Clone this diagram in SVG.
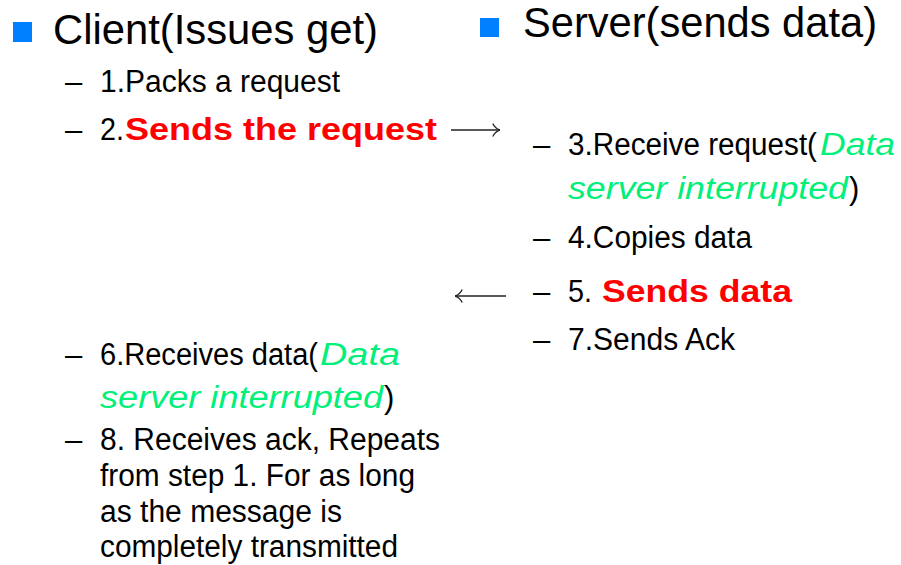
<svg xmlns="http://www.w3.org/2000/svg" width="901" height="565" viewBox="0 0 901 565">
<defs>
<style>
text{font-family:"Liberation Sans",Arial,sans-serif;fill:#000}
.h{font-size:42px}
.i{font-size:31px}
.r{fill:#ff0000;font-weight:bold;font-size:32px}
.g{fill:#00f07a;font-style:italic}
.b{fill:#0080ff}
.c{stroke:#222;stroke-width:1.3;fill:none}
</style>
<marker id="ah" viewBox="0 0 8 14" refX="8" refY="7" markerWidth="8" markerHeight="14" markerUnits="userSpaceOnUse" orient="auto-start-reverse">
<path d="M0.8,0.5 Q3,5.5 8,7 Q3,8.5 0.8,13.5" fill="none" stroke="#222" stroke-width="1.3"/>
</marker>
</defs>
<rect width="901" height="565" fill="#fff"/>
<g id="client">
<rect class="b" x="13" y="22" width="19" height="20"/>
<text class="h" x="53" y="44" textLength="325" lengthAdjust="spacingAndGlyphs">Client(Issues get)</text>
</g>
<g id="server">
<rect class="b" x="480" y="18" width="19" height="19"/>
<text class="h" x="523" y="37" textLength="354" lengthAdjust="spacingAndGlyphs">Server(sends data)</text>
</g>
<g id="step1"><text class="i" x="65" y="92">–</text><text class="i" x="100" y="92" textLength="240" lengthAdjust="spacingAndGlyphs">1.Packs a request</text></g>
<g id="step2"><text class="i" x="65" y="140">–</text><text class="i" x="100" y="140" textLength="24" lengthAdjust="spacingAndGlyphs">2.</text><text class="r" x="125" y="140" textLength="312" lengthAdjust="spacingAndGlyphs">Sends the request</text></g>
<g id="step3"><text class="i" x="533" y="155">–</text><text class="i" x="568" y="155"><tspan textLength="249" lengthAdjust="spacingAndGlyphs">3.Receive request(</tspan><tspan class="g" x="820" textLength="75" lengthAdjust="spacingAndGlyphs">Data</tspan></text><text class="i" x="568" y="199"><tspan class="g" textLength="280" lengthAdjust="spacingAndGlyphs">server interrupted</tspan><tspan x="849">)</tspan></text></g>
<g id="step4"><text class="i" x="533" y="248">–</text><text class="i" x="568" y="248" textLength="184" lengthAdjust="spacingAndGlyphs">4.Copies data</text></g>
<g id="step5"><text class="i" x="533" y="302">–</text><text class="i" x="568" y="302" textLength="24" lengthAdjust="spacingAndGlyphs">5.</text><text class="r" x="602" y="302" textLength="190" lengthAdjust="spacingAndGlyphs">Sends data</text></g>
<g id="step7"><text class="i" x="533" y="350">–</text><text class="i" x="568" y="350" textLength="167" lengthAdjust="spacingAndGlyphs">7.Sends Ack</text></g>
<g id="step6"><text class="i" x="65" y="365">–</text><text class="i" x="100" y="365"><tspan textLength="218" lengthAdjust="spacingAndGlyphs">6.Receives data(</tspan><tspan class="g" x="320" textLength="80" lengthAdjust="spacingAndGlyphs">Data</tspan></text><text class="i" x="100" y="408"><tspan class="g" textLength="283" lengthAdjust="spacingAndGlyphs">server interrupted</tspan><tspan x="384">)</tspan></text></g>
<g id="step8"><text class="i" x="65" y="450">–</text><text class="i" x="100" y="450" textLength="340" lengthAdjust="spacingAndGlyphs">8. Receives ack, Repeats</text><text class="i" x="100" y="486" textLength="315" lengthAdjust="spacingAndGlyphs">from step 1. For as long</text><text class="i" x="100" y="522" textLength="242" lengthAdjust="spacingAndGlyphs">as the message is</text><text class="i" x="100" y="557" textLength="298" lengthAdjust="spacingAndGlyphs">completely transmitted</text></g>
<g id="connectors">
<line class="c" x1="451" y1="130" x2="500" y2="130" marker-end="url(#ah)"/>
<line class="c" x1="506" y1="296" x2="455" y2="296" marker-end="url(#ah)"/>
</g>
</svg>
